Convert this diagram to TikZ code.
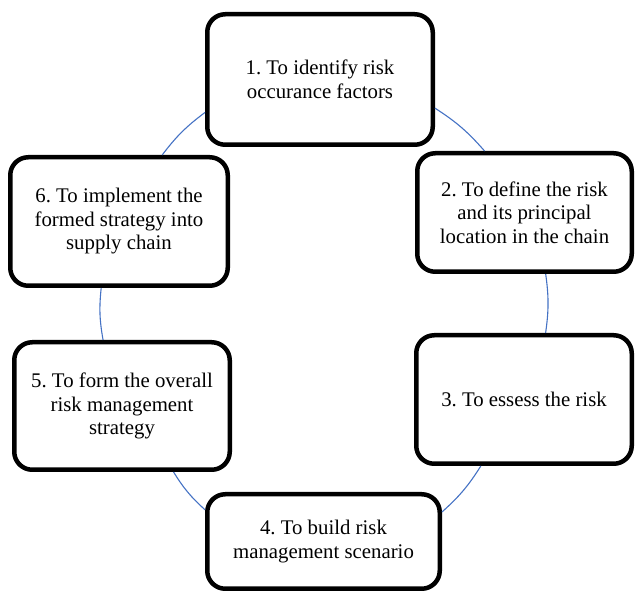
\documentclass[tikz,border=0pt]{standalone}
\usepackage{fontspec}
\newfontfamily\tnrfont{LiberationSerif}[Extension=.ttf, UprightFont=*-Regular, BoldFont=*-Bold]
\frenchspacing
\begin{document}
\begin{tikzpicture}[x=1pt,y=1pt,
  stepbox/.style={draw=black, line width=4.5pt, rounded corners=18pt, fill=white,
    align=center, font=\tnrfont\frenchspacing\fontsize{20.8}{23.5}\selectfont, inner sep=0pt},
  link/.style={draw=linkblue, line width=1.1pt, bend left=8}]
\definecolor{linkblue}{HTML}{4472C4}
\useasboundingbox (0,0) rectangle (635,592);
\node[stepbox, minimum width=225.5pt, minimum height=130.5pt] (b1) at (320,512.5)
  {1. To identify risk\\occurance factors};
\node[stepbox, minimum width=214.5pt, minimum height=118.5pt] (b2) at (524.5,379.5)
  {2. To define the risk\\and its principal\\location in the chain};
\node[stepbox, minimum width=215.5pt, minimum height=128.5pt] (b3) at (524,192.5)
  {3. To essess the risk};
\node[stepbox, minimum width=232.5pt, minimum height=94.5pt] (b4) at (323.5,50.5)
  {4. To build risk\\management scenario};
\node[stepbox, minimum width=215.5pt, minimum height=127.5pt] (b5) at (122,186)
  {5. To form the overall\\risk management\\strategy};
\node[stepbox, minimum width=217.5pt, minimum height=128.5pt] (b6) at (119,370.5)
  {6. To implement the\\formed strategy into\\supply chain};
\draw[link] (b6.57) to (b1.196);
\draw[link] (b1.-14.4) to (b2.123.6);
\draw[link] (b2.-71.3) to (b3.72.5);
\draw[link] (b3.237.7) to (b4.14.9);
\draw[link] (b4.165.8) to (b5.-52.9);
\draw[link] (b5.106.9) to (b6.255.7);
\end{tikzpicture}
\end{document}
